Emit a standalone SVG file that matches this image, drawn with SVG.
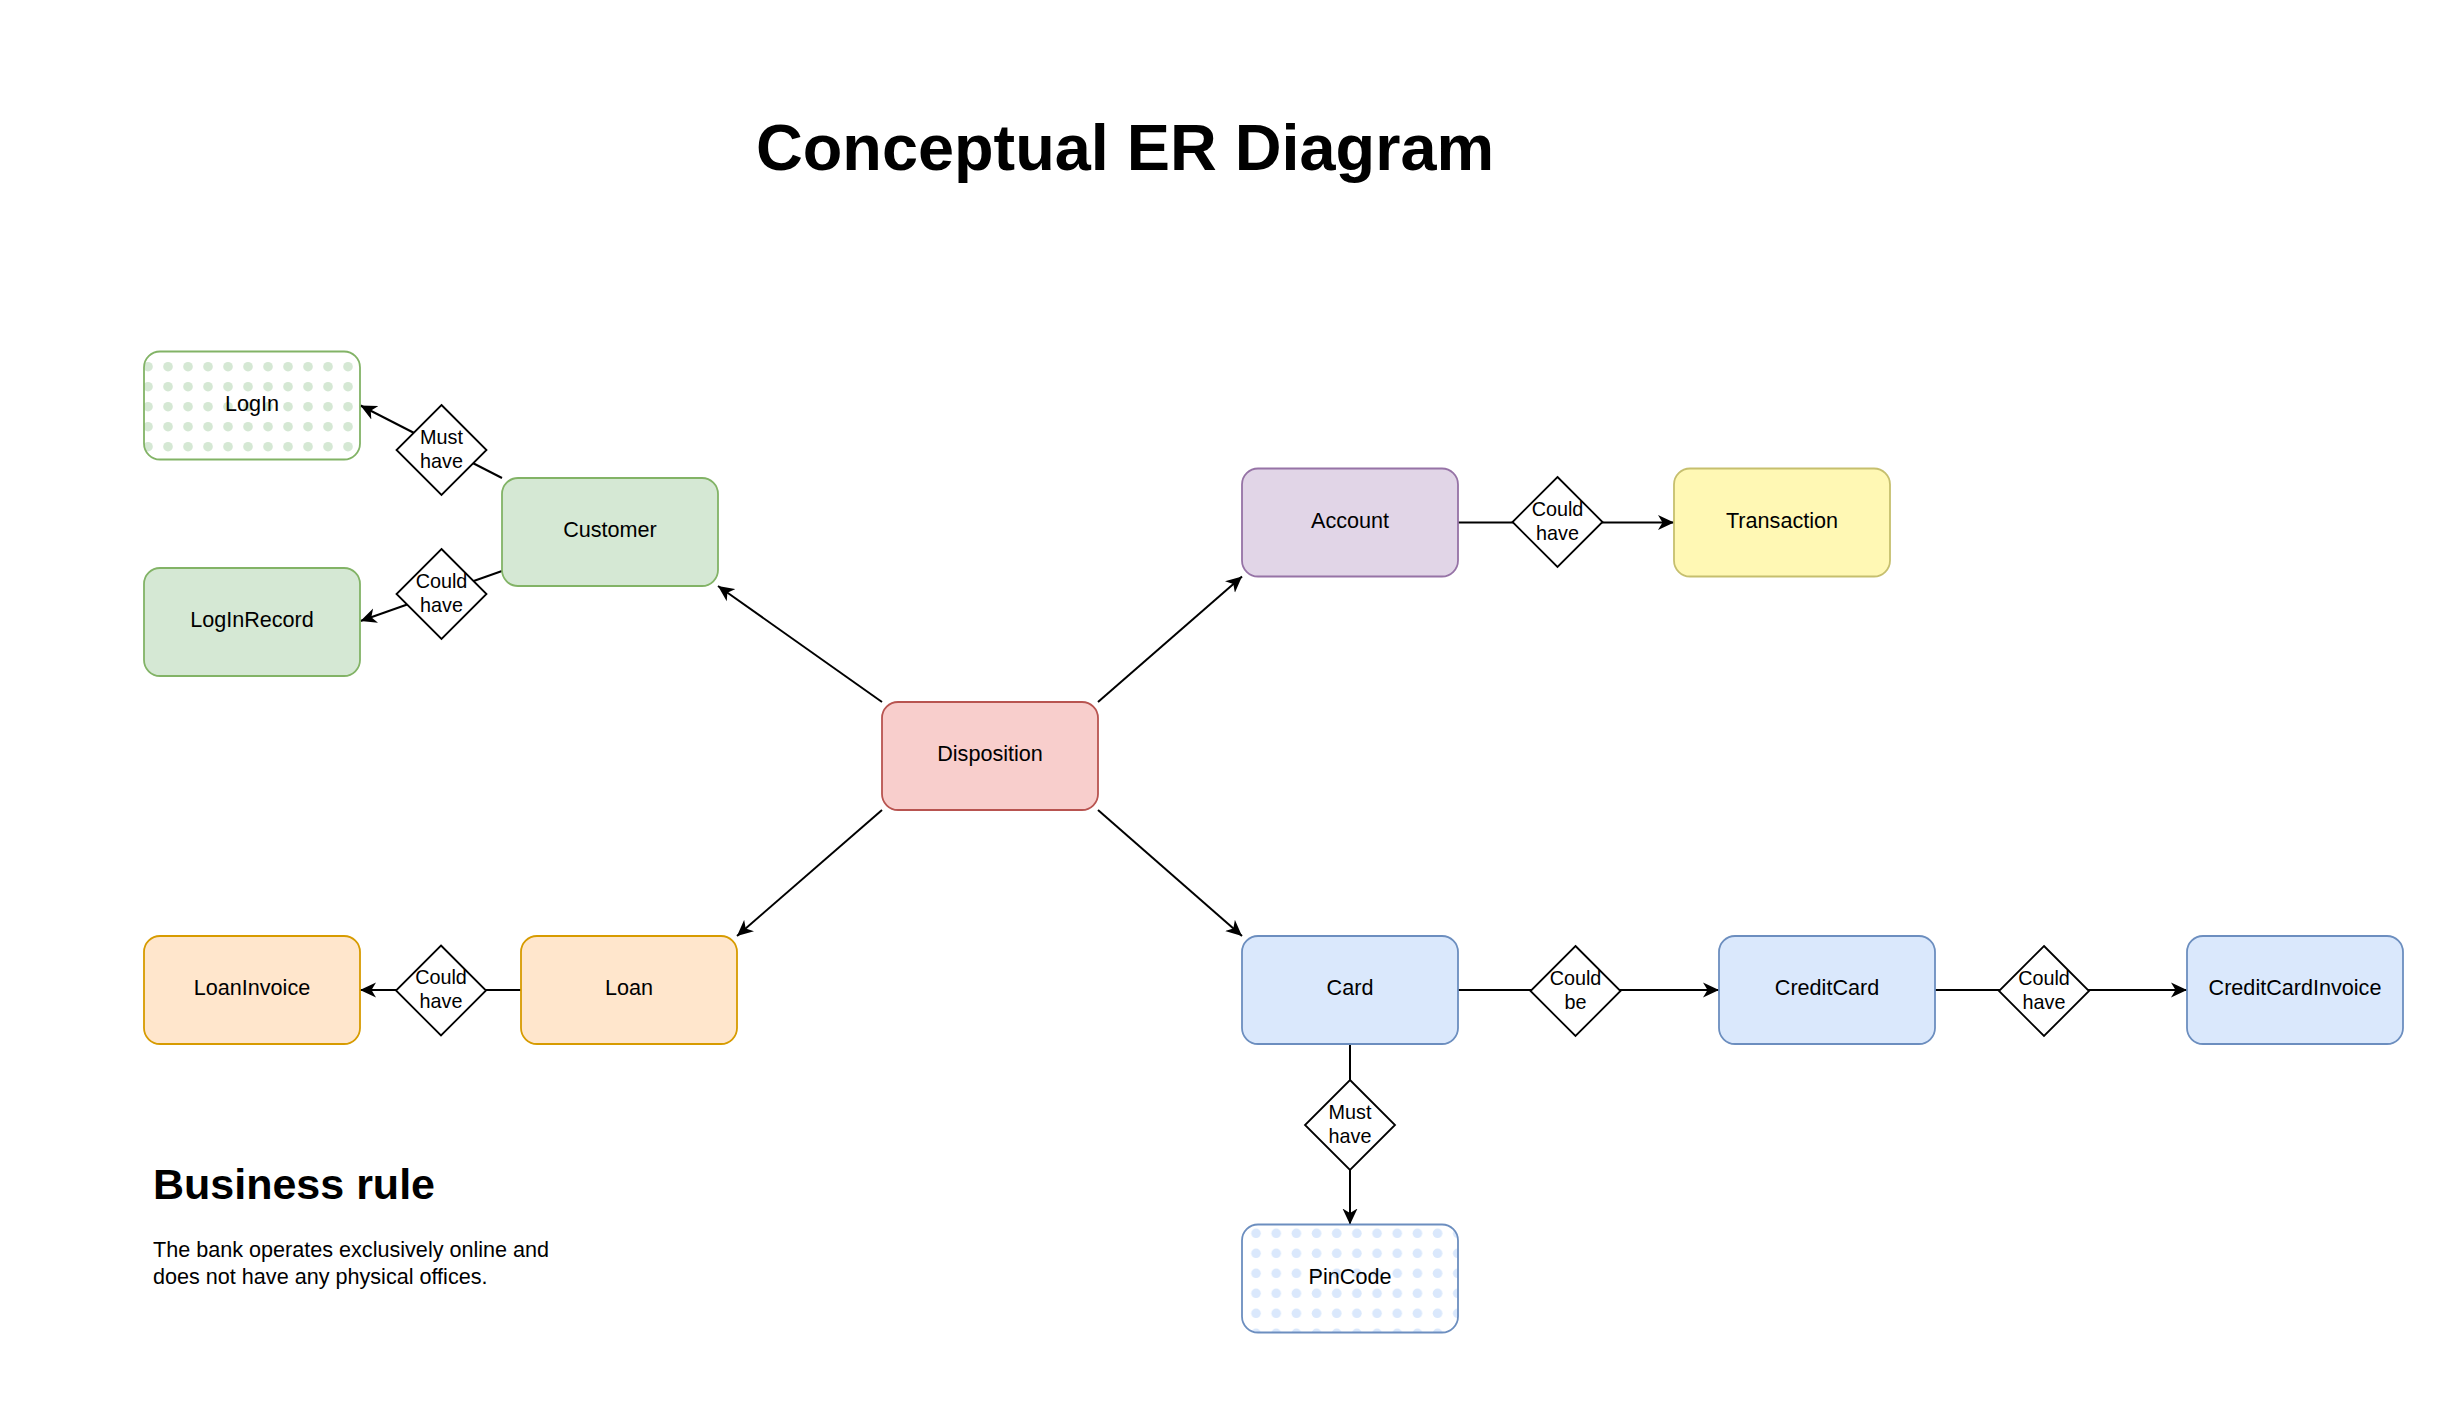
<svg xmlns="http://www.w3.org/2000/svg" width="2452" height="1411" viewBox="0 0 2452 1411">
<style>
  .t { font-family: "Liberation Sans", Arial, sans-serif; fill: #000; }
  .box { stroke-width: 1.8; }
  .lbl { font-size: 21.6px; text-anchor: middle; }
  .dlbl { font-size: 19.8px; text-anchor: middle; }
  .dia { fill: #fff; stroke: #000; stroke-width: 1.8; }
  .edge { fill: none; stroke: #000; stroke-width: 2; marker-end: url(#arr); }
  .green { fill: #d5e8d4; stroke: #82b366; }
  .red { fill: #f8cecc; stroke: #b85450; }
  .purple { fill: #e1d5e7; stroke: #9673a6; }
  .yellow { fill: #fff8b4; stroke: #c6bf6e; }
  .orange { fill: #ffe6cc; stroke: #d79b00; }
  .blue { fill: #dae8fc; stroke: #6c8ebf; }
</style>
<defs>
  <marker id="arr" markerUnits="userSpaceOnUse" viewBox="0 0 16 16" refX="16" refY="8" markerWidth="16" markerHeight="16" orient="auto">
    <path d="M16,8 L0,0.5 L4.5,8 L0,15.5 Z" fill="#000"/>
  </marker>
  <pattern id="dotsGreen" patternUnits="userSpaceOnUse" x="0" y="0" width="20" height="20">
    <rect width="20" height="20" fill="#fff"/>
    <circle cx="8" cy="6.7" r="4.8" fill="#d5e8d4"/>
  </pattern>
  <pattern id="dotsBlue" patternUnits="userSpaceOnUse" x="0" y="0" width="20.17" height="20">
    <rect width="20.17" height="20" fill="#fff"/>
    <circle cx="5.5" cy="13.3" r="4.8" fill="#dae8fc"/>
  </pattern>
</defs>
<rect width="2452" height="1411" fill="#fff"/>

<g id="connectors">
  <path class="edge" d="M502,478 L360.5,405.5"/>
  <path class="edge" d="M502,571 L360.5,621"/>
  <path class="edge" d="M882,702 L718,586"/>
  <path class="edge" d="M1098,702 L1242,576.5"/>
  <path class="edge" d="M882,810 L737,936"/>
  <path class="edge" d="M1098,810 L1242,936"/>
  <path class="edge" d="M1458,522.5 L1674,522.5"/>
  <path class="edge" d="M521,990 L360,990"/>
  <path class="edge" d="M1458,990 L1719,990"/>
  <path class="edge" d="M1935,990 L2187,990"/>
  <path class="edge" d="M1350,1044 L1350,1224.5"/>
</g>

<g id="title">
  <text class="t" x="1125" y="170" font-size="64.8" font-weight="bold" text-anchor="middle">Conceptual ER Diagram</text>
</g>

<g id="node-login">
  <rect x="144" y="351.5" width="216" height="108" rx="16" fill="url(#dotsGreen)" stroke="#82b366" stroke-width="1.8"/>
  <text class="t lbl" x="252" y="411">LogIn</text>
</g>
<g id="node-loginrecord">
  <rect class="box green" x="144" y="568" width="216" height="108" rx="16"/>
  <text class="t lbl" x="252" y="627">LogInRecord</text>
</g>
<g id="node-customer">
  <rect class="box green" x="502" y="478" width="216" height="108" rx="16"/>
  <text class="t lbl" x="610" y="537">Customer</text>
</g>
<g id="node-disposition">
  <rect class="box red" x="882" y="702" width="216" height="108" rx="16"/>
  <text class="t lbl" x="990" y="761">Disposition</text>
</g>
<g id="node-account">
  <rect class="box purple" x="1242" y="468.5" width="216" height="108" rx="16"/>
  <text class="t lbl" x="1350" y="527.5">Account</text>
</g>
<g id="node-transaction">
  <rect class="box yellow" x="1674" y="468.5" width="216" height="108" rx="16"/>
  <text class="t lbl" x="1782" y="527.5">Transaction</text>
</g>
<g id="node-loan">
  <rect class="box orange" x="521" y="936" width="216" height="108" rx="16"/>
  <text class="t lbl" x="629" y="995">Loan</text>
</g>
<g id="node-loaninvoice">
  <rect class="box orange" x="144" y="936" width="216" height="108" rx="16"/>
  <text class="t lbl" x="252" y="995">LoanInvoice</text>
</g>
<g id="node-card">
  <rect class="box blue" x="1242" y="936" width="216" height="108" rx="16"/>
  <text class="t lbl" x="1350" y="995">Card</text>
</g>
<g id="node-creditcard">
  <rect class="box blue" x="1719" y="936" width="216" height="108" rx="16"/>
  <text class="t lbl" x="1827" y="995">CreditCard</text>
</g>
<g id="node-creditcardinvoice">
  <rect class="box blue" x="2187" y="936" width="216" height="108" rx="16"/>
  <text class="t lbl" x="2295" y="995">CreditCardInvoice</text>
</g>
<g id="node-pincode">
  <rect x="1242" y="1224.5" width="216" height="108" rx="16" fill="url(#dotsBlue)" stroke="#6c8ebf" stroke-width="1.8"/>
  <text class="t lbl" x="1350" y="1283.5">PinCode</text>
</g>

<g id="rel-login">
  <path class="dia" d="M441.5,405 L486.5,450 L441.5,495 L396.5,450 Z"/>
  <text class="t dlbl" x="441.5" y="443.5">Must</text>
  <text class="t dlbl" x="441.5" y="467.5">have</text>
</g>
<g id="rel-loginrecord">
  <path class="dia" d="M441.5,549 L486.5,594 L441.5,639 L396.5,594 Z"/>
  <text class="t dlbl" x="441.5" y="587.5">Could</text>
  <text class="t dlbl" x="441.5" y="611.5">have</text>
</g>
<g id="rel-transaction">
  <path class="dia" d="M1557.5,477 L1602.5,522 L1557.5,567 L1512.5,522 Z"/>
  <text class="t dlbl" x="1557.5" y="515.5">Could</text>
  <text class="t dlbl" x="1557.5" y="539.5">have</text>
</g>
<g id="rel-loaninvoice">
  <path class="dia" d="M441,945.5 L486,990.5 L441,1035.5 L396,990.5 Z"/>
  <text class="t dlbl" x="441" y="984">Could</text>
  <text class="t dlbl" x="441" y="1008">have</text>
</g>
<g id="rel-creditcard">
  <path class="dia" d="M1575.5,946 L1620.5,991 L1575.5,1036 L1530.5,991 Z"/>
  <text class="t dlbl" x="1575.5" y="984.5">Could</text>
  <text class="t dlbl" x="1575.5" y="1008.5">be</text>
</g>
<g id="rel-creditcardinvoice">
  <path class="dia" d="M2044,946 L2089,991 L2044,1036 L1999,991 Z"/>
  <text class="t dlbl" x="2044" y="984.5">Could</text>
  <text class="t dlbl" x="2044" y="1008.5">have</text>
</g>
<g id="rel-pincode">
  <path class="dia" d="M1350,1080 L1395,1125 L1350,1170 L1305,1125 Z"/>
  <text class="t dlbl" x="1350" y="1118.5">Must</text>
  <text class="t dlbl" x="1350" y="1142.5">have</text>
</g>

<g id="business-rule">
  <text class="t" x="153" y="1199" font-size="43" font-weight="bold">Business rule</text>
  <text class="t" x="153" y="1257" font-size="21.6">The bank operates exclusively online and</text>
  <text class="t" x="153" y="1283.5" font-size="21.6">does not have any physical offices.</text>
</g>
</svg>
